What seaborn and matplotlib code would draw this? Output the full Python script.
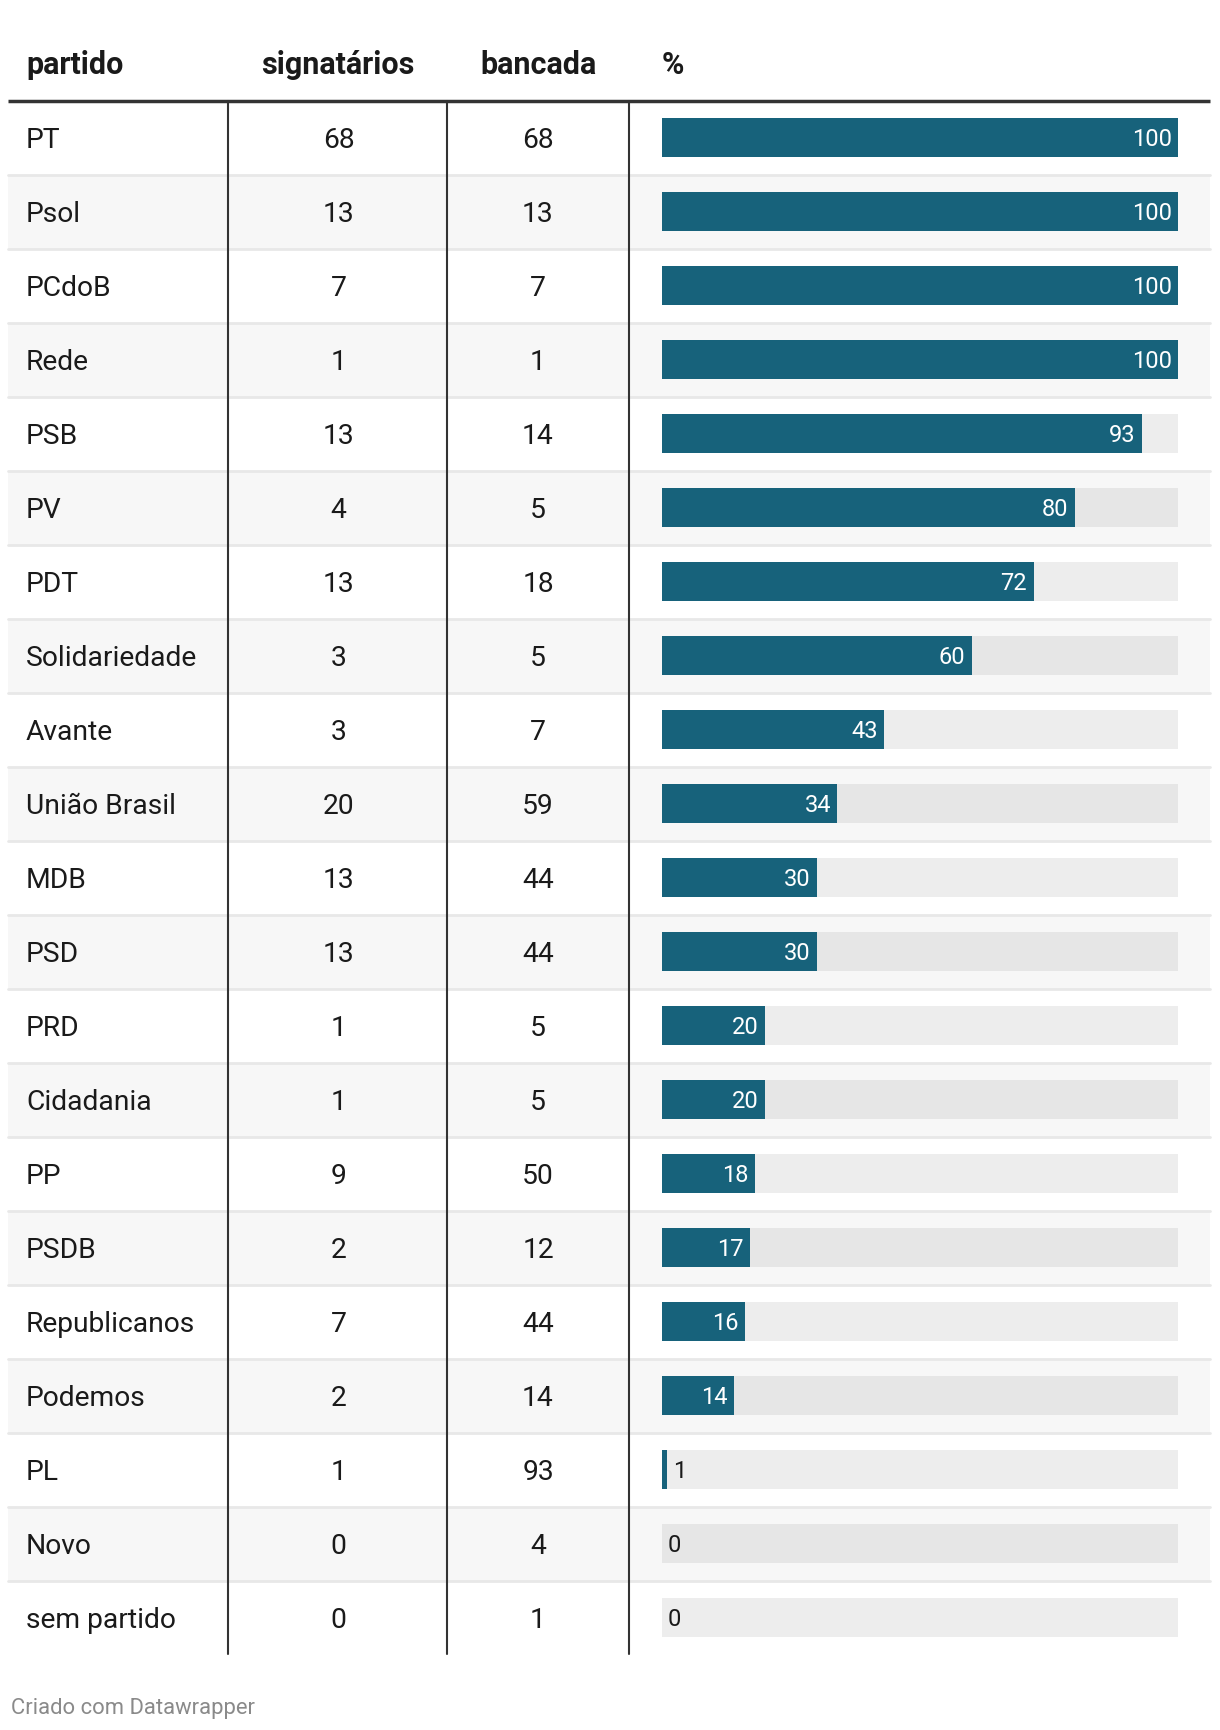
import seaborn as sns
import matplotlib.pyplot as plt
import pandas as pd

partidos = ["PT", "Psol", "PCdoB", "Rede", "PSB", "PV", "PDT", "Solidariedade",
            "Avante", "União Brasil", "MDB", "PSD", "PRD", "Cidadania", "PP",
            "PSDB", "Republicanos", "Podemos", "PL", "Novo", "sem partido"]
signatarios = [68, 13, 7, 1, 13, 4, 13, 3, 3, 20, 13, 13, 1, 1, 9, 2, 7, 2, 1, 0, 0]
bancada = [68, 13, 7, 1, 14, 5, 18, 5, 7, 59, 44, 44, 5, 5, 50, 12, 44, 14, 93, 4, 1]
percentual = [100, 100, 100, 100, 93, 80, 72, 60, 43, 34, 30, 30, 20, 20, 18, 17, 16, 14, 1, 0, 0]
cabecalho = ["partido", "signatários", "bancada", "%"]

sns.set_theme(style="white")
plt.rcParams['font.family'] = ['Roboto', 'DejaVu Sans']

df = pd.DataFrame({
    'partido': partidos,
    'signatarios': signatarios,
    'bancada': bancada,
    'pct': percentual,
})
df['fundo'] = 100
df['listra'] = [i % 2 for i in range(len(df))]

W, H = 1220, 1730
TOP, ROW = 100.5, 74
n = len(df)
BOTTOM = TOP + n * ROW
LEFT, RIGHT = 8, 1210
col_lines = [228, 447, 629]
BAR_X0, BAR_X1 = 662, 1178

fig = plt.figure(figsize=(W / 100, H / 100), dpi=100, facecolor='white')

# camada da tabela em pixels
ax = fig.add_axes([0, 0, 1, 1])
ax.set_xlim(0, W)
ax.set_ylim(H, 0)
ax.axis('off')

txt = '#1a1a1a'
fs = 20.3
for i, row in df.iterrows():
    y0 = TOP + i * ROW
    yc = y0 + ROW / 2
    if i % 2 == 1:
        ax.fill_between([LEFT, RIGHT], y0, y0 + ROW, color='#f7f7f7', lw=0, zorder=0)
    if i > 0:
        ax.plot([LEFT, RIGHT], [y0, y0], color='#e8e8e8', lw=2, zorder=1)
    ax.text(26, yc, row['partido'], fontsize=fs, color=txt, va='center_baseline', ha='left')
    ax.text((col_lines[0] + col_lines[1]) / 2 + 1, yc, str(row['signatarios']),
            fontsize=fs, color=txt, va='center_baseline', ha='center')
    ax.text((col_lines[1] + col_lines[2]) / 2, yc, str(row['bancada']),
            fontsize=fs, color=txt, va='center_baseline', ha='center')

for x in col_lines:
    ax.plot([x, x], [TOP, BOTTOM - 1], color='#333333', lw=1.5, zorder=3)
ax.plot([LEFT, RIGHT], [TOP, TOP], color='#333333', lw=2.5, zorder=4, solid_capstyle='butt')

hy = 61.5
hfs = 22
ax.text(26, hy, cabecalho[0], fontsize=hfs, fontweight='bold', color=txt,
        va='center_baseline', ha='left')
ax.text((col_lines[0] + col_lines[1]) / 2, hy, cabecalho[1], fontsize=hfs,
        fontweight='bold', color=txt, va='center_baseline', ha='center')
ax.text((col_lines[1] + col_lines[2]) / 2, hy, cabecalho[2], fontsize=hfs,
        fontweight='bold', color=txt, va='center_baseline', ha='center')
ax.text(BAR_X0, hy, cabecalho[3], fontsize=hfs, fontweight='bold', color=txt,
        va='center_baseline', ha='left')

ax.text(11, 1706, "Criado com Datawrapper", fontsize=15.8, color='#8a8a8a',
        va='center_baseline', ha='left')

# coluna das barras
axb = fig.add_axes([BAR_X0 / W, 1 - BOTTOM / H, (BAR_X1 - BAR_X0) / W, n * ROW / H])
axb.patch.set_alpha(0)
sns.barplot(data=df, x='fundo', y='partido', hue='listra', dodge=False,
            palette={0: '#ededed', 1: '#e6e6e6'}, width=39 / ROW, linewidth=0,
            legend=False, ax=axb, orient='h')
sns.barplot(data=df, x='pct', y='partido', color='#17627b', saturation=1,
            width=39 / ROW, linewidth=0, ax=axb, orient='h')
axb.set_xlim(0, 100)
axb.set_ylim(n - 0.5, -0.5)
axb.axis('off')

for i, v in enumerate(df['pct']):
    if v >= 10:
        axb.annotate(str(v), (v, i), xytext=(-4.6, 0), textcoords='offset points',
                     ha='right', va='center_baseline', fontsize=17, color='white')
    else:
        axb.annotate(str(v), (v, i), xytext=(4.3, 0), textcoords='offset points',
                     ha='left', va='center_baseline', fontsize=17, color='#1a1a1a')

plt.savefig("out.png", dpi=100, facecolor='white')
